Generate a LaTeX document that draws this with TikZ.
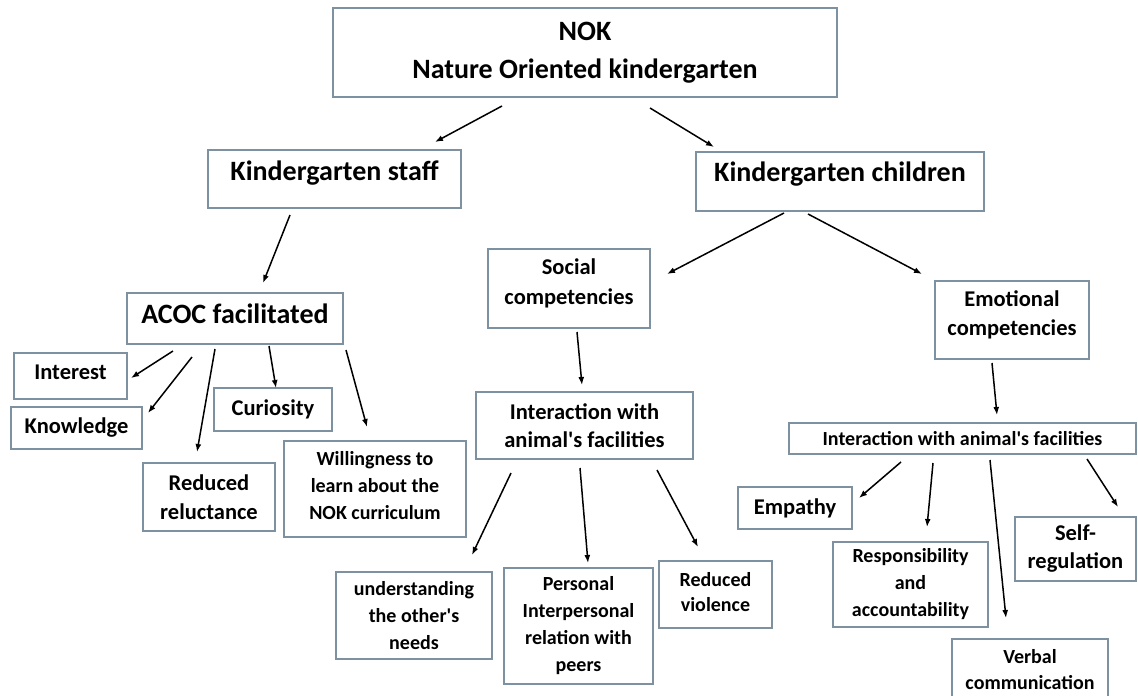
\documentclass[tikz,border=0pt]{standalone}
\usepackage{fontspec}
\setmainfont{Carlito}
\usetikzlibrary{arrows.meta}
\definecolor{boxc}{RGB}{125,145,160}
\newcommand{\xdp}[1]{\rule[-#1pt]{0pt}{#1pt}}
\begin{document}
\begin{tikzpicture}[x=1pt,y=-1pt,
  bx/.style 2 args={draw=boxc, line width=1.2pt, fill=white, align=center, inner sep=0pt,
                    minimum width=#1, minimum height=#2},
  fL/.style={font=\bfseries\fontsize{28}{38}\selectfont},
  fM/.style={font=\bfseries\fontsize{22.5}{29}\selectfont},
  fS/.style={font=\bfseries\fontsize{20}{27}\selectfont},
  arr/.style={-{Latex[length=8pt,width=6pt]}, line width=1.5pt, black}]
\fill[white] (0,0) rectangle (1138,696);
\useasboundingbox (0,0) rectangle (1138,696);

% ---------- boxes ----------
\node[bx={504}{89}, fL] (nok) at (585,52.5) {NOK\\Nature Oriented kindergarten};
\node[bx={253}{58}, fL] (staff) at (334.5,179) {Kindergarten staff\xdp{17}};
\node[bx={288}{59}, fL] (children) at (840,181.5) {Kindergarten children\xdp{20}};
\node[bx={216}{51}, fL] (acoc) at (235,318.5) {ACOC facilitated\xdp{9}};

\node[bx={113}{46}, fM] (interest) at (70.5,376) {Interest\xdp{8}};
\node[bx={131}{42}, fM] (knowledge) at (76.5,428) {Knowledge};
\node[bx={118}{43}, fM] (curiosity) at (273,409.5) {Curiosity};
\node[bx={132}{68}, fM] (reluct) at (209,497) {Reduced\\reluctance};
\node[bx={182}{96}, fS] (willing) at (375,489) {Willingness to\\learn about the\\NOK curriculum\xdp{8}};

\node[bx={162}{79}, font=\bfseries\fontsize{22.5}{30}\selectfont] (social) at (569,288.5) {Social\\competencies\xdp{14}};
\node[bx={154}{78}, fM] (emotional) at (1012,320) {Emotional\\competencies\xdp{14}};

\node[bx={217}{67}, font=\bfseries\fontsize{22.5}{28}\selectfont] (inter1) at (584.5,425.5) {Interaction with\\animal\textquotesingle s facilities};
\node[bx={347}{31}, fS] (inter2) at (962.5,438.5) {Interaction with animal\textquotesingle s facilities};

\node[bx={156}{87}, fS] (underst) at (414,615.5) {understanding\\the other\textquotesingle s\\needs};
\node[bx={149}{116}, fS] (personal) at (578.5,626) {Personal\\Interpersonal\\relation with\\peers};
\node[bx={113}{67}, font=\bfseries\fontsize{20}{25}\selectfont] (violence) at (715.5,594.5) {Reduced\\violence\xdp{6}};

\node[bx={114}{42}, fM] (empathy) at (795,508) {Empathy};
\node[bx={155}{85}, fS] (respons) at (910.5,584.5) {Responsibility\\and\\accountability};
\node[bx={121}{64}, font=\bfseries\fontsize{22.5}{28}\selectfont] (selfreg) at (1075.5,549) {Self-\\regulation};
\node[bx={156}{61}, font=\bfseries\fontsize{20}{26}\selectfont] (verbal) at (1030,669.5) {Verbal\\communication};

% ---------- arrow end points ----------
\coordinate (nok-s1) at (502,106);  \coordinate (staff-n) at (435,142);
\coordinate (nok-s2) at (650,108);  \coordinate (children-n) at (714,147);
\coordinate (staff-s) at (290,215); \coordinate (acoc-n) at (263,283);
\coordinate (children-s1) at (784,213); \coordinate (social-n) at (667,274);
\coordinate (children-s2) at (808,214); \coordinate (emotional-n) at (922,274);
\coordinate (acoc-s1) at (173,351); \coordinate (interest-n) at (131,378);
\coordinate (acoc-s2) at (192,357); \coordinate (knowledge-n) at (148,413);
\coordinate (acoc-s3) at (215,349); \coordinate (reluct-n) at (197,452);
\coordinate (acoc-s4) at (269,346); \coordinate (curiosity-n) at (276,388);
\coordinate (acoc-s5) at (346,350); \coordinate (willing-n) at (367,427);
\coordinate (social-s) at (577,332); \coordinate (inter1-n) at (582,385);
\coordinate (emotional-s) at (992,363); \coordinate (inter2-n) at (997,415);
\coordinate (inter1-s1) at (511,473); \coordinate (underst-n) at (472,555);
\coordinate (inter1-s2) at (580,468); \coordinate (personal-n) at (588,563);
\coordinate (inter1-s3) at (657,470); \coordinate (violence-n) at (698,547);
\coordinate (inter2-s1) at (901,462); \coordinate (empathy-n) at (859,498);
\coordinate (inter2-s2) at (933,463); \coordinate (respons-n) at (927,527);
\coordinate (inter2-s3) at (990,460); \coordinate (verbal-n) at (1006,618);
\coordinate (inter2-s4) at (1087,459); \coordinate (selfreg-n) at (1118,507);

% ---------- arrows ----------
\draw[arr] (nok-s1) -- (staff-n);
\draw[arr] (nok-s2) -- (children-n);
\draw[arr] (staff-s) -- (acoc-n);
\draw[arr] (children-s1) -- (social-n);
\draw[arr] (children-s2) -- (emotional-n);
\draw[arr] (acoc-s1) -- (interest-n);
\draw[arr] (acoc-s2) -- (knowledge-n);
\draw[arr] (acoc-s3) -- (reluct-n);
\draw[arr] (acoc-s4) -- (curiosity-n);
\draw[arr] (acoc-s5) -- (willing-n);
\draw[arr] (social-s) -- (inter1-n);
\draw[arr] (emotional-s) -- (inter2-n);
\draw[arr] (inter1-s1) -- (underst-n);
\draw[arr] (inter1-s2) -- (personal-n);
\draw[arr] (inter1-s3) -- (violence-n);
\draw[arr] (inter2-s1) -- (empathy-n);
\draw[arr] (inter2-s2) -- (respons-n);
\draw[arr] (inter2-s3) -- (verbal-n);
\draw[arr] (inter2-s4) -- (selfreg-n);
\end{tikzpicture}
\end{document}
